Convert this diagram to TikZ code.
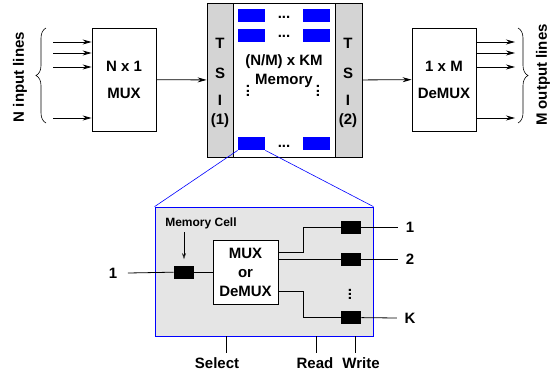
\documentclass[tikz,border=0pt]{standalone}
\usepackage{fontspec}
\setmainfont{Liberation Sans}
\usepackage{xcolor}
\usetikzlibrary{arrows.meta, decorations.pathreplacing}
\definecolor{tsigray}{gray}{0.83}
\definecolor{cellgray}{gray}{0.9}

\begin{document}
\begin{tikzpicture}[
    x=1pt, y=-1pt,
    font=\bfseries\fontsize{15}{17}\selectfont,
    box/.style={draw, fill=#1, inner sep=0pt, align=center},
    box/.default=white,
    slot/.style={fill=#1, inner sep=0pt, minimum width=27pt, minimum height=13pt},
    slot/.default=blue,
    bit/.style={fill=black, inner sep=0pt, minimum width=20pt, minimum height=13pt},
    vdot/.style={inner sep=0pt, rotate=90},
    brc/.style={decorate, decoration={brace, amplitude=10pt}, line width=0.6pt},
    line width=0.8pt,
    >={Stealth[length=9pt, width=5pt]}
]
\useasboundingbox (0,0) rectangle (556,375);

    % Coordinates
    \coordinate (in1)  at (53, 42);
    \coordinate (in2)  at (53, 53);
    \coordinate (in3)  at (53, 67);
    \coordinate (in4)  at (53, 118);
    \coordinate (out1) at (515, 42);
    \coordinate (out2) at (515, 53);
    \coordinate (out3) at (515, 67);
    \coordinate (out4) at (515, 118);

    % Top row: MUX, TSI, memory, TSI, DeMUX
    \node[box, minimum width=64pt, minimum height=103pt] (mux) at (124, 79.5) {N x 1\\[10pt]MUX};
    \node[box=tsigray, minimum width=26pt, minimum height=154pt] (tsiL) at (220, 80) {};
    \node[box, minimum width=102pt, minimum height=154pt] (mem) at (284, 80) {};
    \node[box=tsigray, minimum width=27pt, minimum height=154pt] (tsiR) at (348.5, 80) {};
    \node[box, minimum width=64pt, minimum height=103pt] (demux) at (444, 79.5) {1 x M\\[10pt]DeMUX};

    \foreach \t/\yy in {T/43, S/73, I/100, (1)/121}
        \node (tsiL-\yy) at (220, \yy) {\t};
    \foreach \t/\yy in {T/43, S/73, I/100, (2)/121}
        \node (tsiR-\yy) at (348, \yy) {\t};

    % Memory slots
    \node[slot] (m11) at (251.5, 15.5) {};
    \node[slot] (m12) at (316, 15.5) {};
    \node[slot] (m21) at (251.5, 35) {};
    \node[slot] (m22) at (316, 35) {};
    \node[slot] (mk1) at (251.5, 143.5) {};
    \node[slot] (mk2) at (316, 143.5) {};
    \node[anchor=base] (d1) at (284, 18) {...};
    \node[anchor=base] (d2) at (284, 37) {...};
    \node[anchor=base] (d3) at (284, 147) {...};
    \node[align=center, inner sep=0pt] (memtxt) at (284, 71) {(N/M) x KM\\[2pt]Memory};
    \node[vdot] (vd1) at (248, 91) {...};
    \node[vdot] (vd2) at (318, 91) {...};

    % Input and output lines
    \foreach \i in {1,...,4} {
        \draw[->] (in\i) -- (mux.west |- in\i);
        \draw[->] (demux.east |- out\i) -- (out\i);
    }
    \draw[->] (mux) -- (tsiL);
    \draw[->] (tsiR) -- (demux);

    \draw[brc] (46, 123) -- (46, 28);
    \draw[brc] (518, 28) -- (518, 123);
    \node[rotate=90] (inLbl) at (20, 77) {N input lines};
    \node[rotate=90] (outLbl) at (543, 75) {M output lines};

    % Memory cell detail
    \node[box=cellgray, draw=blue, minimum width=218pt, minimum height=129pt] (cellbox) at (264, 271.5) {};
    \draw[blue, line width=0.6pt] (mk1.south west) -- (cellbox.north west);
    \draw[blue, line width=0.6pt] (mk1.south east) -- (cellbox.north east);

    \node[font=\bfseries\fontsize{12}{14}\selectfont] (cellLbl) at (201, 223) {Memory Cell};
    \node[bit] (cin) at (184, 272) {};
    \node[box, minimum width=65pt, minimum height=64pt, font=\bfseries\fontsize{15}{19}\selectfont] (mux2) at (245.5, 272) {MUX\\or\\DeMUX};
    \node[bit] (c1) at (351, 227.5) {};
    \node[bit] (c2) at (351, 259.5) {};
    \node[bit] (cK) at (351, 317.5) {};
    \node[vdot] (vd3) at (350, 294.5) {...};

    \draw[->, line width=0.5pt, >={Stealth[length=6pt, width=4pt, open]}] (cellLbl.south -| cin) -- ([yshift=6pt]cin.north);

    \node (n1) at (113, 273) {1};
    \node (o1) at (410, 227.5) {1};
    \node (o2) at (410, 259.5) {2};
    \node (oK) at (410, 318) {K};

    \draw ([xshift=7pt]n1.east) -- (cin);
    \draw (cin) -- (mux2.west |- cin);
    \draw ([yshift=20pt]mux2.east) -- ++(25, 0) |- (c1);
    \draw (mux2.east |- c2) -- (c2);
    \draw ([yshift=-19pt]mux2.east) -- ++(25, 0) |- (cK);
    \draw (c1) -- ([xshift=-4pt]o1.west);
    \draw (c2) -- ([xshift=-4pt]o2.west);
    \draw (cK) -- ([xshift=-4pt]oK.west);

    % Control lines
    \node[anchor=base] (sel) at (217, 368) {Select};
    \node[anchor=base] (rd) at (315, 368) {Read};
    \node[anchor=base] (wr) at (361, 368) {Write};
    \coordinate (selTop) at (226, 336);
    \coordinate (rdTop)  at (316, 336);
    \coordinate (wrTop)  at (355, 336);
    \draw[line width=0.6pt] (selTop) -- (selTop |- sel.north);
    \draw[line width=0.6pt] (rdTop) -- (rdTop |- rd.north);
    \draw[line width=0.6pt] (wrTop) -- (wrTop |- wr.north);

\end{tikzpicture}
\end{document}
